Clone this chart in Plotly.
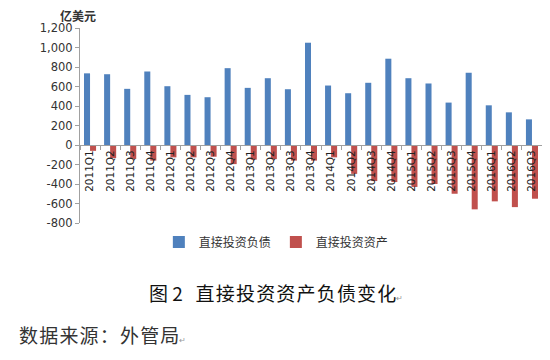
import plotly.graph_objects as go

quarters = ["2011Q1", "2011Q2", "2011Q3", "2011Q4",
            "2012Q1", "2012Q2", "2012Q3", "2012Q4",
            "2013Q1", "2013Q2", "2013Q3", "2013Q4",
            "2014Q1", "2014Q2", "2014Q3", "2014Q4",
            "2015Q1", "2015Q2", "2015Q3", "2015Q4",
            "2016Q1", "2016Q2", "2016Q3"]
liabilities = [735, 726, 576, 754, 603, 514, 490, 788, 586, 685, 572, 1049,
               610, 531, 638, 885, 685, 631, 435, 741, 407, 335, 263]
assets = [-60, -135, -143, -160, -127, -127, -120, -196, -150, -145, -160, -160,
          -127, -296, -370, -380, -430, -400, -500, -660, -578, -637, -551]
y_ticks = [-800, -600, -400, -200, 0, 200, 400, 600, 800, 1000, 1200]
y_tick_text = ["-800", "-600", "-400", "-200", "0", "200", "400", "600", "800", "1,000", "1,200"]

caption_label = "图 2"
caption = "直接投资资产负债变化"
source = "数据来源：外管局"
hs = "\u200a"

fig = go.Figure()
fig.add_trace(go.Bar(x=quarters, y=liabilities, name="直接投资负债",
                     marker=dict(color="#4F81BD", line=dict(width=0))))
fig.add_trace(go.Bar(x=quarters, y=assets, name="直接投资资产",
                     marker=dict(color="#C0504D", line=dict(width=0))))

ymin, ymax = -800, 1200
# the page body adds an 8px offset, so the figure is sized 8px smaller
fig.update_layout(
    width=542, height=352,
    margin=dict(l=72, r=8, t=20, b=137, autoexpand=False),
    paper_bgcolor="white", plot_bgcolor="white",
    barmode="group", bargap=0.4, bargroupgap=0,
    font=dict(family="DejaVu Sans", color="#333333"),
    showlegend=True,
    legend=dict(orientation="h", x=0.425, xanchor="center", y=-0.097, yanchor="middle",
                font=dict(family="Noto Sans CJK SC", size=12, color="#333333"),
                itemwidth=30, traceorder="normal"),
    xaxis=dict(type="category", anchor="free", position=(0 - ymin) / (ymax - ymin),
               automargin=False, layer="above traces",
               showline=True, linecolor="#A0A0A0", linewidth=1,
               ticks="outside", tickson="boundaries", ticklen=4, tickcolor="#A0A0A0",
               tickangle=-90, tickfont=dict(family="DejaVu Sans", size=10.5, color="#222222"),
               showgrid=False, zeroline=False),
    yaxis=dict(range=[ymin, ymax], tickvals=y_ticks, ticktext=y_tick_text,
               automargin=False,
               showline=True, linecolor="#A0A0A0", linewidth=1,
               ticks="outside", ticklen=4, tickcolor="#A0A0A0",
               tickfont=dict(family="DejaVu Sans", size=11.5, color="#333333"),
               showgrid=False, zeroline=False),
)

fig.add_annotation(text="<b>亿美元</b>", xref="paper", yref="paper", x=-0.005, y=1.1,
                   xanchor="center", yanchor="top", showarrow=False,
                   height=13, borderpad=0,
                   font=dict(family="Noto Sans CJK SC", size=12, color="#333333"))
fig.add_annotation(text=caption_label + "   " + hs.join(caption)
                   + "<span style='font-size:8px;color:#999999'>↵</span>",
                   xref="paper", yref="paper", x=0.425, y=-0.354,
                   xanchor="center", yanchor="middle", showarrow=False,
                   font=dict(family="Noto Sans CJK SC", size=19, color="#111111"))
fig.add_annotation(text=hs.join(source) + "<span style='font-size:8px;color:#999999'>↵</span>",
                   xref="paper", yref="paper", x=-0.137, y=-0.574,
                   xanchor="left", yanchor="middle", showarrow=False,
                   font=dict(family="Noto Sans CJK SC", size=19, color="#333333"))

fig.write_html("out.html")
